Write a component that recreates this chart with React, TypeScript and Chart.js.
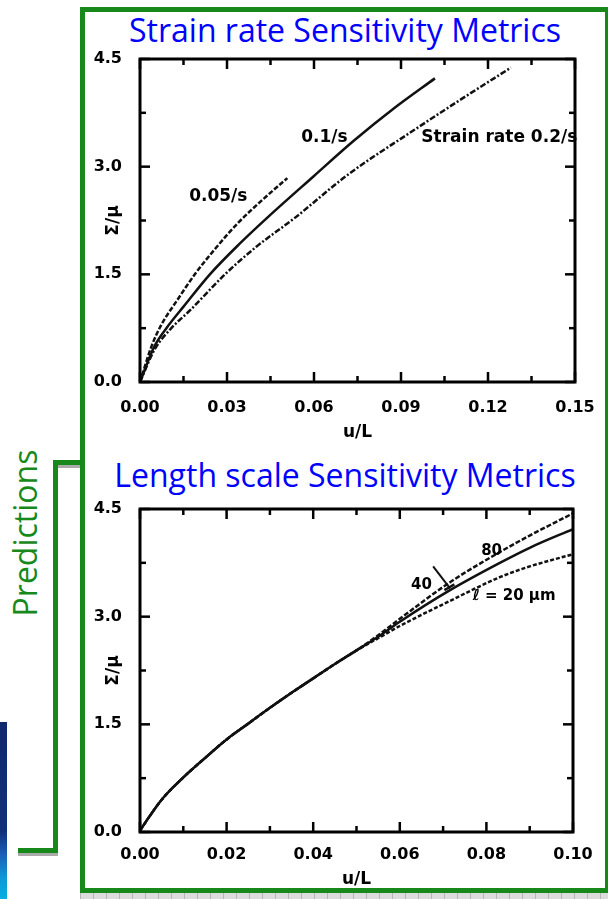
import React, { useEffect, useRef } from "react";
import { Chart, registerables } from "chart.js";

Chart.register(...registerables);

// ---------- Top panel: strain-rate sensitivity ----------
const topXTickStep = 0.015;
const topXMax = 0.15;
const yMax = 4.5;
const yTickStep = 0.75;

const rate005X = [0, 0.004, 0.0074, 0.0125, 0.0189, 0.026, 0.0339, 0.042, 0.0508];
const rate005Y = [0, 0.5, 0.8, 1.12, 1.5, 1.86, 2.22, 2.53, 2.84];

const rate01X = [0, 0.005, 0.0091, 0.015, 0.0241, 0.0342, 0.0442, 0.06, 0.0737, 0.0875, 0.1017];
const rate01Y = [0, 0.5, 0.75, 1.05, 1.5, 1.92, 2.3, 2.87, 3.36, 3.81, 4.23];

const rate02X = [0, 0.005, 0.0108, 0.0173, 0.0293, 0.04, 0.0535, 0.0714, 0.0945, 0.11, 0.1279];
const rate02Y = [0, 0.45, 0.75, 1.0, 1.5, 1.88, 2.29, 2.88, 3.51, 3.92, 4.38];

const topLabelTexts = ["0.05/s", "0.1/s", "Strain rate 0.2/s"];
const topLabelX = [0.027, 0.0636, 0.1239];
const topLabelY = [2.58, 3.41, 3.41];

// ---------- Bottom panel: length-scale sensitivity ----------
const botXTickStep = 0.01;
const botXMax = 0.1;

const commonX = [0, 0.002, 0.005, 0.01, 0.015, 0.02, 0.025, 0.03, 0.035, 0.04, 0.045];
const commonY = [0.02, 0.2, 0.45, 0.76, 1.03, 1.29, 1.51, 1.73, 1.94, 2.14, 2.34];

const l80X = [0.05, 0.055, 0.06, 0.0716, 0.0831, 0.09, 0.1];
const l80Y = [2.53, 2.74, 2.97, 3.48, 3.9, 4.13, 4.44];

const l40X = [0.05, 0.055, 0.06, 0.0716, 0.0831, 0.09, 0.1];
const l40Y = [2.53, 2.72, 2.93, 3.37, 3.75, 3.96, 4.22];

const l20X = [0.05, 0.055, 0.06, 0.0716, 0.0831, 0.09, 0.1];
const l20Y = [2.53, 2.7, 2.87, 3.22, 3.55, 3.7, 3.87];

const leaderX = [0.0677, 0.0716];
const leaderY = [3.7, 3.395];
const crossX = [0.0703, 0.0726];
const crossY = [3.37, 3.45];

const botLabelTexts = ["80", "40", "ℓ = 20 μm"];
const botLabelX = [0.0812, 0.065, 0.0864];
const botLabelY = [3.91, 3.44, 3.28];

// ---------- helpers ----------
const GREEN = "#17881a";
const AXIS_FONT = "'DejaVu Sans', sans-serif";

const pts = (xs: number[], ys: number[]) => xs.map((x, i) => ({ x, y: ys[i] }));

type SeriesDef = { xs: number[]; ys: number[]; dash: number[]; width: number };

const zeroPad = (s: any) => {
  s.paddingTop = 0;
  s.paddingBottom = 0;
  s.paddingLeft = 0;
  s.paddingRight = 0;
};

const panelPlugin = {
  id: "panel",
  afterDraw(chart: any, _args: any, opts: any) {
    const { ctx, chartArea: a, scales } = chart;
    ctx.save();
    ctx.strokeStyle = "#000";
    ctx.lineWidth = 3;
    ctx.strokeRect(a.left, a.top, a.right - a.left, a.bottom - a.top);
    ctx.lineWidth = 2.5;
    const seg = (x1: number, y1: number, x2: number, y2: number) => {
      ctx.beginPath();
      ctx.moveTo(x1, y1);
      ctx.lineTo(x2, y2);
      ctx.stroke();
    };
    const xs = scales.x;
    xs.ticks.forEach((t: any, i: number) => {
      const p = xs.getPixelForValue(t.value);
      const len = i % 2 === 0 ? 10 : 6;
      seg(p, a.bottom, p, a.bottom - len);
      seg(p, a.top, p, a.top + len);
    });
    const ys = scales.y;
    ys.ticks.forEach((t: any, i: number) => {
      const p = ys.getPixelForValue(t.value);
      const len = i % 2 === 0 ? 10 : 6;
      seg(a.left, p, a.left + len, p);
      seg(a.right, p, a.right - len, p);
    });
    ctx.fillStyle = "#000";
    ctx.font = `bold ${opts.labelSize}px ${AXIS_FONT}`;
    ctx.textAlign = "center";
    ctx.textBaseline = "middle";
    (opts.texts as string[]).forEach((txt, i) => {
      ctx.fillText(txt, xs.getPixelForValue(opts.xs[i]), ys.getPixelForValue(opts.ys[i]));
    });
    ctx.restore();
  },
};

function buildConfig(p: {
  series: SeriesDef[];
  xMax: number;
  xStep: number;
  padRight: number;
  xAxisHeight: number;
  titlePadBottom: number;
  xTickPad: number;
  labelTexts: string[];
  labelX: number[];
  labelY: number[];
  labelSize: number;
}): any {
  return {
    type: "line",
    data: {
      datasets: p.series.map((s) => ({
        data: pts(s.xs, s.ys),
        borderColor: "#111",
        borderWidth: s.width,
        borderDash: s.dash,
        pointRadius: 0,
        fill: false,
        cubicInterpolationMode: "monotone",
      })),
    },
    plugins: [panelPlugin],
    options: {
      animation: false,
      responsive: false,
      devicePixelRatio: 1,
      layout: { padding: { left: 0, top: 9, right: p.padRight, bottom: 0 } },
      plugins: {
        legend: { display: false },
        tooltip: { enabled: false },
        panel: {
          texts: p.labelTexts,
          xs: p.labelX,
          ys: p.labelY,
          labelSize: p.labelSize,
        },
      },
      scales: {
        x: {
          type: "linear",
          min: 0,
          max: p.xMax,
          grid: { display: false, drawTicks: false },
          border: { display: false },
          ticks: {
            stepSize: p.xStep,
            autoSkip: false,
            maxRotation: 0,
            padding: p.xTickPad,
            color: "#000",
            font: { family: AXIS_FONT, weight: "bold", size: 16 },
            callback: (v: number, i: number) => (i % 2 === 0 ? Number(v).toFixed(2) : ""),
          },
          title: {
            display: true,
            text: "u/L",
            color: "#000",
            font: { family: AXIS_FONT, weight: "bold", size: 17 },
            padding: { top: 0, bottom: p.titlePadBottom },
          },
          afterFit: (s: any) => {
            s.height = p.xAxisHeight;
            zeroPad(s);
          },
        },
        y: {
          type: "linear",
          min: 0,
          max: yMax,
          grid: { display: false, drawTicks: false },
          border: { display: false },
          ticks: {
            stepSize: yTickStep,
            autoSkip: false,
            padding: 18,
            color: "#000",
            font: { family: AXIS_FONT, weight: "bold", size: 16 },
            callback: (v: number, i: number) => (i % 2 === 0 ? Number(v).toFixed(1) : ""),
          },
          title: {
            display: true,
            text: "Σ/μ",
            color: "#000",
            font: { family: AXIS_FONT, weight: "bold", size: 17 },
            padding: { top: 17, bottom: 0 },
          },
          afterFit: (s: any) => {
            s.width = 54;
            zeroPad(s);
          },
        },
      },
    },
  };
}

function ChartCanvas({ config, left, top, width, height }: any) {
  const ref = useRef<HTMLCanvasElement>(null);
  useEffect(() => {
    const chart = new Chart(ref.current as HTMLCanvasElement, config());
    return () => chart.destroy();
  }, []);
  return (
    <canvas
      ref={ref}
      width={width}
      height={height}
      style={{ position: "absolute", left, top, width, height }}
    />
  );
}

const topConfig = () =>
  buildConfig({
    series: [
      { xs: rate005X, ys: rate005Y, dash: [5, 2], width: 2.5 },
      { xs: rate01X, ys: rate01Y, dash: [], width: 2.5 },
      { xs: rate02X, ys: rate02Y, dash: [6, 2, 2, 2], width: 2.5 },
    ],
    xMax: topXMax,
    xStep: topXTickStep,
    padRight: 21,
    xAxisHeight: 68,
    titlePadBottom: 7,
    xTickPad: 16,
    labelTexts: topLabelTexts,
    labelX: topLabelX,
    labelY: topLabelY,
    labelSize: 17,
  });

const botConfig = () =>
  buildConfig({
    series: [
      { xs: [...commonX, ...l80X], ys: [...commonY, ...l80Y], dash: [5, 2], width: 2.5 },
      { xs: [...commonX, ...l40X], ys: [...commonY, ...l40Y], dash: [], width: 2.5 },
      { xs: [...commonX, ...l20X], ys: [...commonY, ...l20Y], dash: [4, 2], width: 2.5 },
      { xs: leaderX, ys: leaderY, dash: [], width: 2 },
      { xs: crossX, ys: crossY, dash: [], width: 2.5 },
    ],
    xMax: botXMax,
    xStep: botXTickStep,
    padRight: 23,
    xAxisHeight: 60,
    titlePadBottom: 2,
    xTickPad: 13,
    labelTexts: botLabelTexts,
    labelX: botLabelX,
    labelY: botLabelY,
    labelSize: 15,
  });

const titleStyle: React.CSSProperties = {
  position: "absolute",
  left: 80,
  width: 530,
  textAlign: "center",
  fontFamily: "'Open Sans', sans-serif",
  fontSize: 32,
  lineHeight: "32px",
  color: "#0000ff",
  whiteSpace: "nowrap",
};

export default function App() {
  return (
    <div
      style={{
        position: "absolute",
        left: 0,
        top: 0,
        width: 608,
        height: 899,
        overflow: "hidden",
        background: "#fff",
      }}
    >
      {/* blue side bar */}
      <div
        style={{
          position: "absolute",
          left: 0,
          top: 722,
          width: 7,
          height: 177,
          background:
            "linear-gradient(to bottom, #0f2a6c 0%, #11307a 62%, #1b5fb8 75%, #0c98d6 88%, #08ade0 100%)",
        }}
      />
      {/* bracket shadows */}
      <div style={{ position: "absolute", left: 58, top: 465, width: 24, height: 3, background: "#aaa" }} />
      <div style={{ position: "absolute", left: 18, top: 853, width: 40, height: 3, background: "#aaa" }} />
      {/* bracket */}
      <div style={{ position: "absolute", left: 53, top: 460, width: 29, height: 5, background: GREEN }} />
      <div style={{ position: "absolute", left: 53, top: 460, width: 5, height: 393, background: GREEN }} />
      <div style={{ position: "absolute", left: 18, top: 848, width: 40, height: 5, background: GREEN }} />
      {/* Predictions */}
      <div
        style={{
          position: "absolute",
          left: 25,
          top: 533,
          transform: "translate(-50%, -50%) rotate(-90deg)",
          fontFamily: "'Open Sans', sans-serif",
          fontSize: 32,
          lineHeight: "32px",
          color: GREEN,
          whiteSpace: "nowrap",
        }}
      >
        Predictions
      </div>
      {/* frame ruler strip */}
      <div
        style={{
          position: "absolute",
          left: 80,
          top: 893,
          width: 528,
          height: 6,
          background: "repeating-linear-gradient(90deg, #b5b5b5 0 1px, #dcdcdc 1px 13px)",
        }}
      />
      {/* green frame */}
      <div
        style={{
          position: "absolute",
          left: 80,
          top: 7,
          width: 530,
          height: 886,
          boxSizing: "border-box",
          border: `5px solid ${GREEN}`,
        }}
      />
      <div style={{ ...titleStyle, top: 14 }}>Strain rate Sensitivity Metrics</div>
      <div style={{ ...titleStyle, top: 459 }}>Length scale Sensitivity Metrics</div>
      <ChartCanvas config={topConfig} left={86} top={50} width={510} height={400} />
      <ChartCanvas config={botConfig} left={86} top={500} width={510} height={392} />
    </div>
  );
}
